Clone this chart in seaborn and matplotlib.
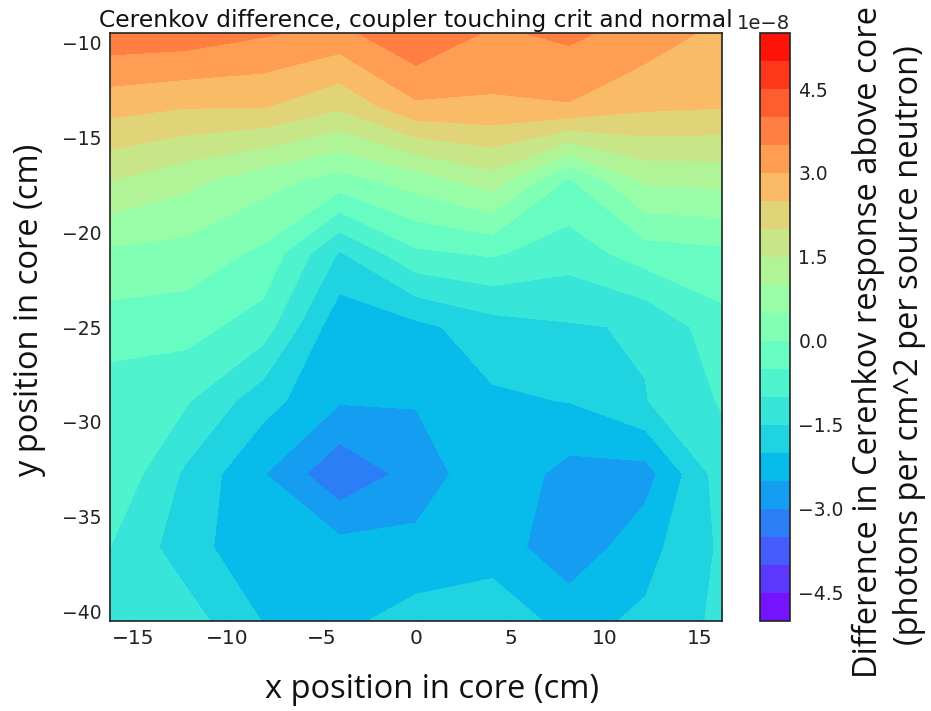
import numpy as np
import matplotlib
matplotlib.use("Agg")
import matplotlib.pyplot as plt
import seaborn as sns

sns.set_theme(style="ticks")
plt.rcParams['font.family'] = ['DejaVu Sans']

# grid positions (cm)
x_positions = [-16.2, -12.15, -8.1, -4.05, 0.0, 4.05, 8.1, 12.15, 16.2]
y_positions = [-40.5, -36.625, -32.75, -28.875, -25.0, -21.125, -17.25, -13.375, -9.5]

# Cerenkov difference values (units of 1e-8), one list per y row (bottom to top)
row_y_m40_5   = [-1.15, -1.27, -2.02, -2.12, -1.80, -1.70, -2.16, -1.91, -1.38]
row_y_m36_625 = [-1.00, -1.78, -2.40, -2.32, -2.35, -2.22, -2.85, -2.18, -1.42]
row_y_m32_75  = [-0.55, -1.60, -2.47, -3.40, -2.80, -2.12, -2.68, -2.71, -1.24]
row_y_m28_875 = [-0.80, -0.95, -1.80, -2.45, -2.46, -2.08, -1.98, -1.52, -0.95]
row_y_m25     = [-0.23, -0.30, -0.75, -2.37, -2.14, -1.72, -1.55, -1.45, -0.68]
row_y_m21_125 = [0.40, 0.30, -0.10, -1.55, -0.60, -0.44, -0.78, -0.25, -0.13]
row_y_m17_25  = [1.52, 1.15, 0.70, 0.30, 0.75, 1.27, -0.05, 1.10, 1.15]
row_y_m13_375 = [2.68, 2.53, 2.53, 2.09, 2.90, 2.91, 2.96, 2.60, 2.53]
row_y_m9_5    = [3.85, 3.80, 3.56, 3.35, 3.97, 3.42, 3.61, 3.28, 2.86]

value_scale = 1e-8
colorbar_ticks = [-4.5, -3.0, -1.5, 0.0, 1.5, 3.0, 4.5]
level_min, level_max, level_step = -5.0, 5.5, 0.5

rows = [row_y_m40_5, row_y_m36_625, row_y_m32_75, row_y_m28_875, row_y_m25,
        row_y_m21_125, row_y_m17_25, row_y_m13_375, row_y_m9_5]
Z = np.array(rows) * value_scale
X, Y = np.meshgrid(x_positions, y_positions)
levels = np.arange(level_min, level_max + level_step / 2, level_step) * value_scale

W, H = 931, 711
fig = plt.figure(figsize=(W / 100, H / 100), dpi=100)
fig.patch.set_facecolor('white')

ax = fig.add_axes([110 / W, 1 - 621 / H, 612 / W, 588 / H])
cax = fig.add_axes([760 / W, 1 - 621 / H, 30 / W, 588 / H])

cs = ax.contourf(X, Y, Z, levels=levels, cmap='rainbow')
ax.set_xticks([-15, -10, -5, 0, 5, 10, 15])
ax.set_yticks([-40, -35, -30, -25, -20, -15, -10])
ax.tick_params(direction='in', top=True, right=True, length=5, width=1,
               labelsize=13.5, colors='#222222', pad=6)
ax.tick_params(axis='x', labelsize=14.5)
for s in ax.spines.values():
    s.set_color('#222222')
    s.set_linewidth(1.2)
ax.set_title("Cerenkov difference, coupler touching crit and normal",
             fontsize=16.8, pad=4, color='#111111')

cb = fig.colorbar(cs, cax=cax, ticks=np.array(colorbar_ticks) * value_scale)
cb.ax.tick_params(direction='in', length=5, labelsize=13.5, colors='#222222', pad=6)
cb.outline.set_edgecolor('#222222')
cb.outline.set_linewidth(1.2)
offset_txt = cb.ax.yaxis.get_offset_text()
offset_txt.set_fontsize(14)

label_font = ['Open Sans', 'DejaVu Sans']
fig.text(432 / W, 1 - 690 / H, "x position in core (cm)", ha='center', va='center',
         fontsize=23.5, family=label_font, color='#111111')
fig.text(30 / W, 1 - 310 / H, "y position in core (cm)", ha='center', va='center',
         rotation=90, fontsize=23.5, family=label_font, color='#111111')
fig.text(868 / W, 1 - 342 / H, "Difference in Cerenkov response above core",
         ha='center', va='center', rotation=90, fontsize=23.5, family=label_font,
         color='#111111')
fig.text(910 / W, 1 - 345 / H, "(photons per cm^2 per source neutron)",
         ha='center', va='center', rotation=90, fontsize=23.5, family=label_font,
         color='#111111')

fig.savefig("out.png", dpi=100, facecolor='white')
